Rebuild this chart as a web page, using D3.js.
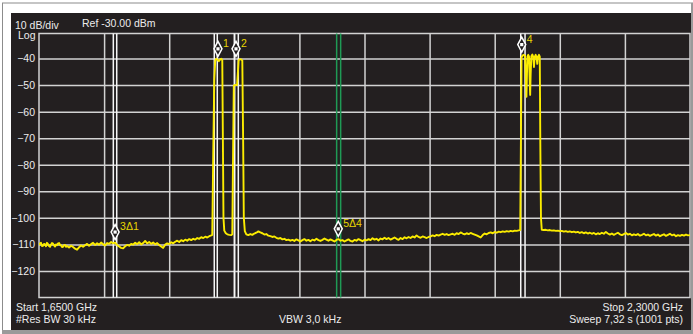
<!DOCTYPE html>
<html lang="en">
<head>
<meta charset="utf-8">
<title>Spectrum analyzer trace</title>
<script src="https://d3js.org/d3.v7.min.js"></script>
<style>
  body { margin: 0; background: #fff; }
  svg text { font-family: "Liberation Sans", Arial, sans-serif; fill: #ececec; }
</style>
</head>
<body>
<script>
// sweep, MHz / dBm
var startMHz = 1650, stopMHz = 2300;
var refDbm = -30, bottomDbm = -130;
var yTicks = [-40, -50, -60, -70, -80, -90, -100, -110, -120];
var xGrid = [1715, 1780, 1845, 1910, 1975, 2040, 2105, 2170, 2235];

// marker lines (MHz)
var whiteLines = [1724.2, 1727.6, 1825.0, 1828.0, 1845.0, 1849.0, 2131.0, 2135.3];
var greenLines = [1947.2, 1951.2];

// label, MHz, dBm
var markers = [
  ["1", 1828.7, -40.3],
  ["2", 1846.7, -40.3],
  ["3\u03941", 1726.0, -109.3],
  ["4", 2132.0, -38.7],
  ["5\u03944", 1948.8, -108.1]
];

// trace [MHz, dBm]
var trace = [
  [1650,-110.2],[1651,-109.7],[1652,-109.4],[1653,-110.6],[1654,-110.5],[1655,-109.8],[1656,-110.0],[1657,-110.7],
  [1658,-109.4],[1659,-109.9],[1660,-110.6],[1661,-110.9],[1662,-110.1],[1663,-109.5],[1664,-109.7],[1665,-110.4],
  [1666,-110.8],[1667,-110.0],[1668,-110.3],[1669,-109.6],[1670,-109.5],[1671,-110.2],[1672,-110.4],[1673,-111.0],
  [1674,-110.9],[1675,-110.3],[1676,-110.2],[1677,-110.9],[1678,-110.6],[1680,-111.2],
  [1682,-110.5],[1684,-111.0],[1686,-111.6],[1688,-112.0],[1690,-111.1],[1692,-110.4],[1694,-110.9],[1696,-110.3],
  [1698,-109.8],[1700,-110.5],[1702,-109.9],[1704,-109.4],[1706,-110.2],[1708,-109.6],[1710,-110.1],[1712,-109.3],
  [1714,-109.9],[1716,-110.4],[1718,-109.5],[1720,-109.8],[1722,-109.1],[1724,-109.6],[1726,-109.3],[1728,-110.2],
  [1730,-110.8],[1732,-111.3],[1734,-111.5],[1736,-110.7],[1738,-110.2],[1740,-110.5],[1742,-109.8],[1744,-110.1],
  [1746,-109.4],[1748,-109.9],[1750,-109.2],[1752,-110.0],[1754,-109.5],[1756,-108.7],[1758,-109.6],[1760,-109.1],
  [1762,-109.8],[1764,-109.3],[1766,-110.0],[1768,-109.5],[1770,-110.2],[1772,-110.8],[1774,-111.3],[1776,-110.1],
  [1778,-109.6],[1780,-109.9],[1782,-109.2],[1784,-109.6],[1786,-109.0],[1788,-108.6],[1790,-109.1],[1792,-108.4],
  [1794,-108.8],[1796,-108.2],[1798,-108.6],[1800,-108.0],[1802,-108.4],[1804,-107.9],[1806,-108.2],[1808,-107.6],
  [1810,-107.9],[1812,-107.3],[1814,-107.6],[1816,-107.1],[1818,-107.4],[1820,-106.9],[1822,-106.6],[1823,-106.4],
  [1824,-75],[1825,-48],[1826,-40.6],[1827,-40.1],[1828,-40.4],[1829.5,-41.0],[1831,-40.3],[1832,-40.1],[1833,-40.6],
  [1833.6,-70],[1834.2,-100],[1835,-104.8],[1836.5,-105.8],[1838,-106.2],[1840,-106.4],[1842,-106.5],[1843,-106.2],
  [1843.8,-75],[1844.5,-50.2],[1846,-49.9],[1847.8,-50.0],[1848.6,-45],[1849.3,-40.8],[1850,-40.3],[1851,-40.2],
  [1852,-40.4],[1853,-40.7],[1853.8,-70],[1854.5,-100],[1855.5,-105.0],[1857,-106.2],[1859,-106.5],[1861,-106.1],
  [1863,-106.4],[1865,-105.9],[1867,-105.6],[1869,-105.1],[1871,-105.5],[1873,-105.8],[1875,-106.3],[1877,-106.1],
  [1879,-106.7],[1881,-106.9],[1883,-107.2],[1885,-107.0],[1887,-107.5],[1889,-107.8],[1891,-107.6],[1893,-108.1],
  [1895,-107.9],[1897,-108.4],[1899,-108.2],[1901,-108.6],[1903,-108.3],[1905,-108.7],[1907,-108.1],[1909,-108.5],
  [1911,-108.9],[1913,-108.4],[1915,-108.0],[1917,-108.6],[1919,-108.3],[1921,-108.8],[1923,-108.2],[1925,-108.5],
  [1927,-107.9],[1929,-108.4],[1931,-108.7],[1933,-108.3],[1935,-107.8],[1937,-108.2],[1939,-108.6],[1941,-108.1],
  [1943,-108.5],[1945,-108.9],[1947,-108.3],[1949,-108.0],[1951,-108.6],[1953,-108.4],[1955,-108.9],[1957,-108.5],
  [1959,-108.1],[1961,-108.7],[1963,-108.9],[1965,-108.3],[1967,-108.6],[1969,-108.0],[1971,-108.4],[1973,-108.8],
  [1975,-108.2],[1977,-108.5],[1979,-108.0],[1981,-108.4],[1983,-107.7],[1985,-108.2],[1987,-107.9],[1989,-108.5],
  [1991,-107.8],[1993,-108.1],[1995,-107.5],[1997,-108.0],[1999,-107.6],[2001,-108.2],[2003,-107.8],[2005,-107.4],
  [2007,-107.9],[2009,-108.3],[2011,-107.6],[2013,-108.0],[2015,-107.3],[2017,-107.7],[2019,-107.2],[2021,-107.6],
  [2023,-107.0],[2025,-107.4],[2027,-106.6],[2029,-107.2],[2031,-107.5],[2033,-107.0],[2035,-107.3],[2037,-107.6],
  [2039,-107.2],[2041,-107.0],[2043,-106.6],[2045,-106.9],[2047,-106.4],[2049,-106.7],[2051,-106.3],[2053,-106.0],
  [2055,-106.4],[2057,-106.1],[2059,-106.5],[2061,-106.2],[2063,-106.0],[2065,-106.4],[2067,-105.8],[2069,-106.1],
  [2071,-105.5],[2073,-105.9],[2075,-106.2],[2077,-105.8],[2079,-106.1],[2081,-105.7],[2083,-106.0],[2085,-106.3],
  [2087,-106.6],[2089,-107.0],[2091,-107.4],[2093,-106.5],[2095,-105.9],[2097,-106.2],[2099,-105.7],[2101,-105.5],
  [2103,-105.8],[2105,-105.3],[2107,-105.6],[2109,-105.2],[2111,-105.4],[2113,-105.1],[2115,-105.3],[2117,-105.0],
  [2119,-105.2],[2121,-104.9],[2123,-105.1],[2125,-104.8],[2127,-104.9],[2129,-104.7],[2130.5,-104.6],
  [2131.2,-70],[2131.8,-39.5],[2133,-38.8],[2134.2,-38.6],[2135.3,-39.0],[2136.1,-48],[2136.7,-54.4],[2137.2,-46],
  [2137.8,-39.2],[2138.5,-38.6],[2139.3,-39.3],[2139.9,-48],[2140.4,-53.7],[2140.9,-46],[2141.6,-39.1],[2142.6,-38.5],
  [2143.5,-39.4],[2144.2,-43.2],[2144.9,-39.5],[2145.9,-38.6],[2146.8,-39.6],[2147.5,-42.0],[2148.2,-39.3],
  [2149.2,-38.6],[2150.0,-39.3],[2150.5,-70],[2151.2,-100],[2152,-104.5],[2154,-104.6],[2156,-104.5],[2158,-104.7],
  [2160,-104.6],[2162,-104.8],[2164,-104.7],[2166,-104.9],[2168,-104.8],[2170,-105.0],[2172,-104.9],[2174,-105.2],
  [2176,-105.0],[2178,-105.3],[2180,-105.1],[2182,-105.4],[2184,-105.2],[2186,-105.5],[2188,-105.3],[2190,-105.7],
  [2192,-105.4],[2194,-105.8],[2196,-105.5],[2198,-105.9],[2200,-105.6],[2202,-106.0],[2204,-105.7],[2206,-106.2],
  [2208,-105.8],[2210,-106.1],[2212,-105.6],[2214,-106.0],[2216,-105.3],[2218,-105.9],[2220,-106.3],[2222,-105.9],
  [2224,-106.4],[2226,-106.0],[2228,-105.6],[2230,-106.2],[2232,-106.5],[2234,-106.1],[2236,-105.7],[2238,-106.3],
  [2240,-106.0],[2242,-106.6],[2244,-106.2],[2246,-106.5],[2248,-106.1],[2250,-106.7],[2252,-106.4],[2254,-106.0],
  [2256,-106.6],[2258,-106.3],[2260,-106.8],[2262,-106.4],[2264,-106.1],[2266,-106.7],[2268,-106.3],[2270,-106.9],
  [2272,-106.5],[2274,-106.2],[2276,-106.8],[2278,-106.4],[2280,-106.0],[2282,-106.6],[2284,-106.3],[2286,-106.9],
  [2288,-106.5],[2290,-106.8],[2292,-106.4],[2294,-106.7],[2296,-106.3],[2298,-106.6],[2300,-106.5]
];

var width = 693, height = 334;
var plotLeft = 39, plotRight = 690, plotTop = 33.5, plotBottom = 297.5;

var svg = d3.select("body").append("svg")
    .attr("width", width)
    .attr("height", height);

// frame and screen
svg.append("rect").attr("x", 2.5).attr("y", 3).attr("width", 690).attr("height", 330)
    .attr("fill", "#fff").attr("stroke", "#8c8c8c");
svg.append("rect").attr("x", 691).attr("y", 3).attr("width", 2).attr("height", 331).attr("fill", "#9a9a9a");
svg.append("rect").attr("x", 2).attr("y", 330).attr("width", 691).attr("height", 4).attr("fill", "#9a9a9a");
svg.append("rect").attr("x", 11).attr("y", 13).attr("width", 680).attr("height", 317).attr("fill", "#231f20");

var x = d3.scaleLinear().domain([startMHz, stopMHz]).range([plotLeft, plotRight]);
var y = d3.scaleLinear().domain([bottomDbm, refDbm]).range([plotBottom, 32]);

var gridColor = "#d2d2d2";

// grid
svg.append("g")
    .attr("transform", "translate(0," + plotBottom + ")")
    .call(d3.axisBottom(x).tickValues(xGrid).tickSize(-(plotBottom - plotTop)).tickFormat(""))
    .call(function(g) { g.select(".domain").remove(); })
    .selectAll("line").attr("stroke", gridColor).attr("stroke-width", 1.5);

svg.append("g")
    .attr("transform", "translate(" + plotLeft + ",0)")
    .call(d3.axisLeft(y).tickValues(yTicks).tickSize(-(plotRight - plotLeft)).tickPadding(4))
    .call(function(g) { g.select(".domain").remove(); })
    .call(function(g) {
      g.selectAll("line").attr("stroke", gridColor).attr("stroke-width", 1.5);
      g.selectAll("text").attr("font-size", 10.5).attr("fill", "#ececec")
        .style("font-family", "'Liberation Sans', Arial, sans-serif");
    });

svg.append("rect")
    .attr("x", plotLeft).attr("y", plotTop)
    .attr("width", plotRight - plotLeft).attr("height", plotBottom - plotTop)
    .attr("fill", "none").attr("stroke", gridColor).attr("stroke-width", 1.5);

// marker lines
svg.append("g").selectAll("line").data(whiteLines).join("line")
    .attr("x1", function(d) { return x(d); }).attr("x2", function(d) { return x(d); })
    .attr("y1", plotTop).attr("y2", plotBottom)
    .attr("stroke", "#f6f6f6").attr("stroke-width", 1.5);

svg.append("g").selectAll("line").data(greenLines).join("line")
    .attr("x1", function(d) { return x(d); }).attr("x2", function(d) { return x(d); })
    .attr("y1", plotTop).attr("y2", plotBottom)
    .attr("stroke", "#1f9a55").attr("stroke-width", 1.5);

// trace
svg.append("clipPath").attr("id", "plot")
  .append("rect").attr("x", plotLeft).attr("y", plotTop)
  .attr("width", plotRight - plotLeft).attr("height", plotBottom - plotTop);

var line = d3.line()
    .x(function(d) { return x(d[0]); })
    .y(function(d) { return y(d[1]); });

svg.append("path")
    .datum(trace)
    .attr("clip-path", "url(#plot)")
    .attr("fill", "none")
    .attr("stroke", "#fbec00")
    .attr("stroke-width", 1.9)
    .attr("stroke-linejoin", "round")
    .attr("d", line);

// markers
var mk = svg.append("g").selectAll("g").data(markers).join("g")
    .attr("transform", function(d) { return "translate(" + x(d[1]) + "," + (y(d[2]) - 10.5) + ")"; });

mk.append("path")
    .attr("d", "M0,-7.5L4,0L0,7.5L-4,0Z")
    .attr("fill", "#231f20").attr("stroke", "#fff").attr("stroke-width", 1.5);
mk.append("rect")
    .attr("x", -1.6).attr("y", -1.6).attr("width", 3.2).attr("height", 3.2)
    .attr("fill", "#fff");
mk.append("text")
    .attr("x", 5).attr("y", -2)
    .attr("font-size", 10.5)
    .style("fill", "#e8d500")
    .text(function(d) { return d[0]; });

// annotations
function label(tx, ty, str, anchor) {
  svg.append("text").attr("x", tx).attr("y", ty)
    .attr("font-size", 10.5)
    .attr("text-anchor", anchor || "start")
    .text(str);
}
label(15, 28.5, "10 dB/div");
label(82, 26.5, "Ref -30.00 dBm");
label(18, 39, "Log");
label(16, 311, "Start 1,6500 GHz");
label(16, 322.5, "#Res BW 30 kHz");
label(279, 322.5, "VBW 3,0 kHz");
label(683, 311, "Stop 2,3000 GHz", "end");
label(683, 323, "Sweep 7,32 s (1001 pts)", "end");
</script>
</body>
</html>
